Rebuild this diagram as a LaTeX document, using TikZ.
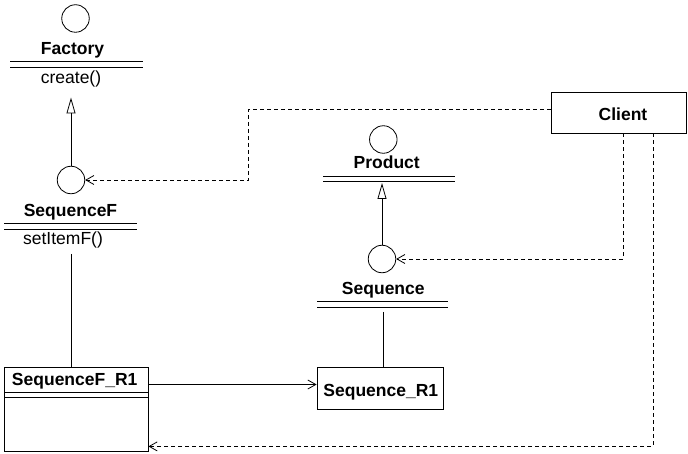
\documentclass[tikz,border=0pt]{standalone}
\usepackage{fontspec}
\setmainfont{Liberation Sans}
\usetikzlibrary{arrows.meta}
\begin{document}
\begin{tikzpicture}[x=1pt,y=-1pt,line width=0.8pt,
  iface/.style={draw,circle,minimum size=27.5pt,inner sep=0pt},
  cname/.style={font=\fontsize{17.5}{20}\selectfont\bfseries,anchor=base,inner sep=0pt},
  oname/.style={font=\fontsize{17.5}{20}\selectfont,anchor=base,inner sep=0pt},
  classbox/.style={draw,inner sep=0pt},
  gen/.style={-{Triangle[open,length=16pt,width=9pt]}},
  dep/.style={dash pattern=on 4pt off 3pt,-{Straight Barb[length=8pt,width=9pt]}},
  assoc/.style={-{Straight Barb[length=8pt,width=9pt]}}]
\useasboundingbox (0,0) rectangle (688,454);

% Factory interface
\node[iface] (fc) at (75.5,18.5) {};
\node[cname] (ft) at (72.5,55) {Factory};
\draw (10,61.7) -- (142.7,61.7) (10,67.3) -- (142.7,67.3);
\node[oname] (fop) at (71,84) {create()};
\coordinate (fbase) at (71,97.5);

% SequenceF interface
\node[iface] (sfc) at (71,180) {};
\node[cname] (sft) at (70.5,216.7) {SequenceF};
\draw (4.3,223.3) -- (136.7,223.3) (4.3,229) -- (136.7,229);
\node[oname] (sfop) at (63,245) {setItemF()};
\coordinate (sfbot) at (71,254);

% Product interface
\node[iface] (pc) at (383.3,139.5) {};
\node[cname] (pt) at (386.7,169) {Product};
\draw (323,176) -- (455,176) (323,181.5) -- (455,181.5);
\coordinate (pbase) at (382,183);

% Sequence interface
\node[iface] (sc) at (382,259) {};
\node[cname] (st) at (383.3,294.3) {Sequence};
\draw (317,301) -- (448,301) (317,307) -- (448,307);
\coordinate (sbot) at (383,312);

% Implementation classes
\node[classbox,minimum width=144pt,minimum height=84pt] (sfr1) at (76,409) {};
\node[cname] (sfr1t) at (74.7,385) {SequenceF\_R1};
\draw (4,392) -- (148,392) (4,397) -- (148,397);

\node[classbox,minimum width=126pt,minimum height=42pt] (sr1) at (380,388) {};
\node[cname] (sr1t) at (380.8,396.7) {Sequence\_R1};

% Client
\node[classbox,minimum width=135pt,minimum height=41pt] (client) at (618.5,112.5) {};
\node[cname] (clientt) at (623,120.7) {Client};

% Generalizations
\draw[gen] (sfc.north) -- (fbase);
\draw[gen] (sc.north) -- (pbase);

% Realizations
\draw (sfbot) -- (sfbot |- sfr1.north);
\draw (sbot) -- (sbot |- sr1.north);

% Association
\draw[assoc] (sfr1.east |- 0,384.5) -- (sr1.west |- 0,384.5);

% Dependencies of the client
\draw[dep] ([yshift=3.5pt]client.west) -- ++(-302,0) |- (sfc.east);
\draw[dep] ([xshift=4.5pt]client.south) |- (sc.east);
\draw[dep] ([xshift=34.5pt]client.south) |- ([yshift=5pt]sfr1.south east);
\end{tikzpicture}
\end{document}
